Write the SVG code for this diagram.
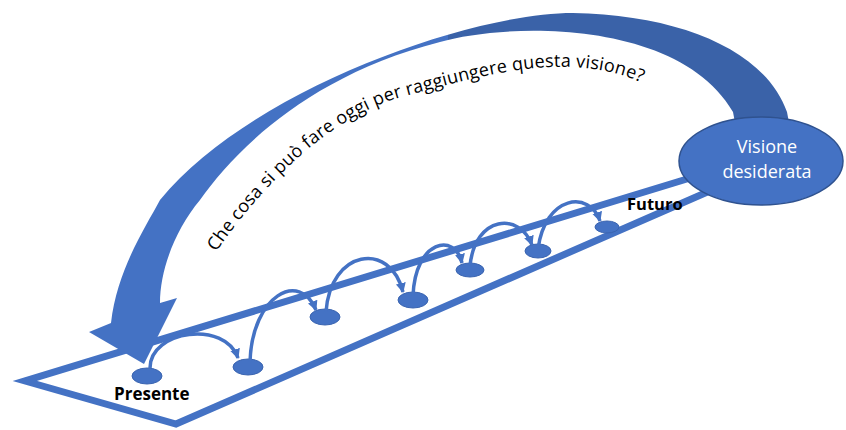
<svg xmlns="http://www.w3.org/2000/svg" width="846" height="430" viewBox="0 0 846 430">
  <defs>
    <style>
      .frame { fill: none; stroke: #4472C4; stroke-width: 7; stroke-linejoin: miter; }
      .dot { fill: #4472C4; stroke: #3A64B0; stroke-width: 1; }
      .hop { fill: none; stroke: #4472C4; stroke-width: 3.5; marker-end: url(#ah); }
      .lbl { font-family: "Open Sans", "Liberation Sans", sans-serif; font-weight: bold; fill: #000; }
      .vis { font-family: "Open Sans", "Liberation Sans", sans-serif; fill: #FFFFFF; font-size: 18px; text-anchor: middle; }
      .q { font-family: "Open Sans", "Liberation Sans", sans-serif; font-size: 18px; letter-spacing: 0.2px; fill: #000; }
    </style>
    <marker id="ah" markerUnits="userSpaceOnUse" markerWidth="12" markerHeight="12" refX="9" refY="5" orient="auto">
      <path d="M0,0 L10,5 L0,10 Z" fill="#4472C4"/>
    </marker>
    <linearGradient id="band" gradientUnits="userSpaceOnUse" x1="0" y1="0" x2="846" y2="0">
      <stop offset="0.53" stop-color="#4472C4"/>
      <stop offset="0.53" stop-color="#3A62A8"/>
    </linearGradient>
    <path id="qpath" d="M216,252 C250,203 320,118 405,96 C482,76 580,44 660,92"/>
  </defs>

  <g id="frame">
    <polyline class="frame" points="700,175 25,381 176,424 712,190"/>
  </g>

  <g id="steps">
    <ellipse id="step1" class="dot" cx="147" cy="376" rx="15" ry="8"/>
    <ellipse id="step2" class="dot" cx="248" cy="367" rx="15" ry="8"/>
    <ellipse id="step3" class="dot" cx="325" cy="317" rx="15" ry="8"/>
    <ellipse id="step4" class="dot" cx="413" cy="300" rx="15" ry="8"/>
    <ellipse id="step5" class="dot" cx="470" cy="270" rx="14" ry="7"/>
    <ellipse id="step6" class="dot" cx="538" cy="251" rx="13" ry="7"/>
    <ellipse id="step7" class="dot" cx="607" cy="227" rx="12" ry="6"/>
  </g>

  <g id="connectors">
    <path class="hop" d="M150,368 C150,330 225,320 238,358"/>
    <path class="hop" d="M250,362 C252,295 300,270 316,310"/>
    <path class="hop" d="M326,312 C330,250 390,240 403,292"/>
    <path class="hop" d="M413,296 C415,240 455,232 462,263"/>
    <path class="hop" d="M470,266 C475,215 520,212 532,245"/>
    <path class="hop" d="M538,249 C545,195 590,190 600,221"/>
  </g>

  <g id="big-arrow">
    <path fill="url(#band)" d="M790,128 L787,112 C765,50 680,15 573,13 C470,13 250,90 160,200 C145,228 117,270 111,323 L89,332 L144,364 L177,298 L160,303 C160,270 175,230 200,200 C235,150 310,75 440,42 C510,22 680,20 733,112 L736,128 Z"/>
  </g>

  <g id="vision">
    <ellipse cx="761" cy="161" rx="82" ry="44" fill="#4472C4" stroke="#2F528F" stroke-width="1.5"/>
    <text class="vis" x="767" y="153">Visione</text>
    <text class="vis" x="767" y="178">desiderata</text>
  </g>

  <g id="labels">
    <text class="lbl" x="114" y="400" font-size="17">Presente</text>
    <text class="lbl" x="627" y="210" font-size="16.5">Futuro</text>
    <text class="q"><textPath href="#qpath">Che cosa si può fare oggi per raggiungere questa visione?</textPath></text>
  </g>
</svg>
